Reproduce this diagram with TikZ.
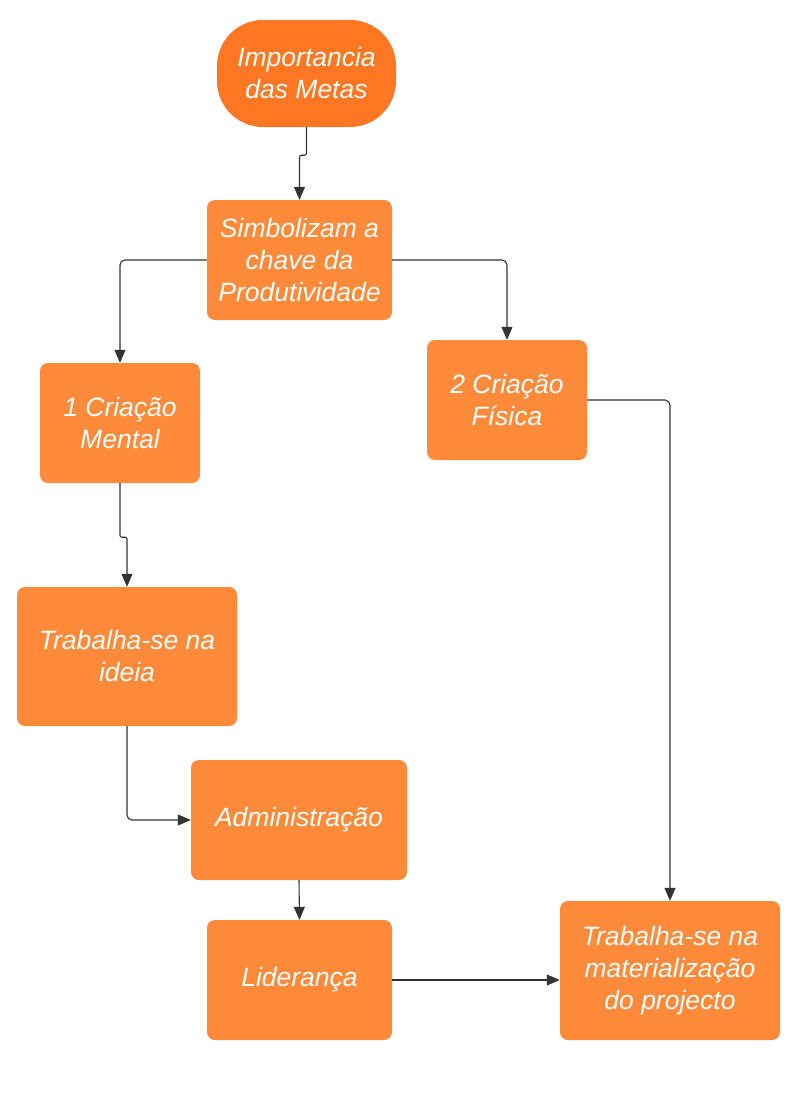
\documentclass[tikz,border=0pt]{standalone}
\usepackage{fontspec}
\setmainfont{Liberation Sans}
\usetikzlibrary{arrows.meta}
\definecolor{boxorange}{HTML}{FF8A3A}
\definecolor{termorange}{HTML}{FF7722}
\definecolor{lineg}{HTML}{333333}
\begin{document}
\begin{tikzpicture}[x=1pt,y=-1pt,
  box/.style={fill=boxorange,rounded corners=8pt,text=white,align=center,inner sep=0pt,
    font=\fontsize{26.5}{32}\selectfont\itshape},
  term/.style={box,fill=termorange,rounded corners=46pt},
  arr/.style={-{Triangle[length=13pt,width=11pt]},draw=lineg,line width=1.1pt,rounded corners=5pt}]
  \useasboundingbox (0,0) rectangle (799,1100);
  \node[term,minimum width=179pt,minimum height=107pt] (imp) at (306.5,73.5) {Importancia\\das Metas};
  \node[box,minimum width=185pt,minimum height=120pt] (simb) at (299.5,260) {Simbolizam a\\chave da\\Produtividade};
  \node[box,minimum width=160pt,minimum height=120pt] (mental) at (120,423) {1 Criação\\Mental};
  \node[box,minimum width=160pt,minimum height=120pt] (fisica) at (507,400) {2 Criação\\Física};
  \node[box,minimum width=220pt,minimum height=139pt] (ideia) at (127,656.5) {Trabalha-se na\\ideia};
  \node[box,minimum width=216pt,minimum height=120pt] (admin) at (299,820) {Administração};
  \node[box,minimum width=185pt,minimum height=120pt] (lider) at (299.5,980) {Liderança};
  \node[box,minimum width=220pt,minimum height=139pt] (mater) at (670,970.5) {Trabalha-se na\\materialização\\do projecto};
  % connectors
  \draw[arr,rounded corners=2pt] (imp.south) -- ++(0,28) -| (simb.north);
  \draw[arr] (simb.west) -| (mental.north);
  \draw[arr] (simb.east) -| (fisica.north);
  \draw[arr,rounded corners=2pt] (mental.south) -- ++(0,54) -| (ideia.north);
  \draw[arr] (ideia.south) |- (admin.west);
  \draw[arr] (admin.south) -- (lider.north);
  \draw[arr] (fisica.east) -| (mater.north);
  \draw[arr] (lider.east) -- (mater.west |- lider.east);
\end{tikzpicture}
\end{document}
